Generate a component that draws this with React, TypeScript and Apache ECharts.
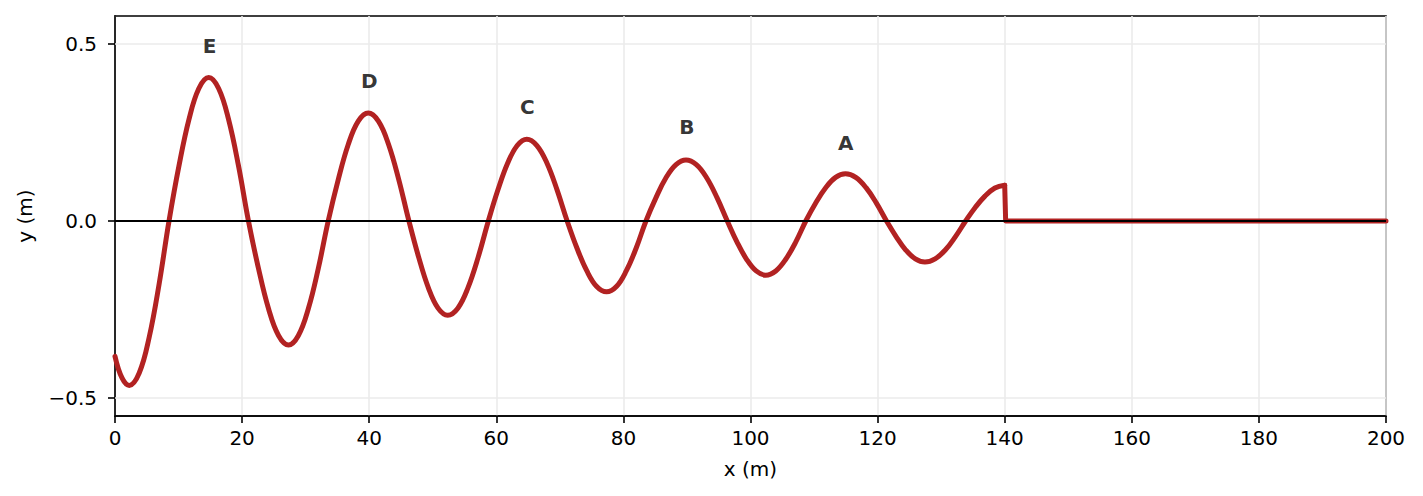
import React, { useEffect, useRef } from 'react';
import * as echarts from 'echarts';

// damped wave (extrema, zero crossings and points in between)
const waveX = [
  0, 1.1, 2.25, 3.81, 5.38, 6.94, 8.5, 10.06, 11.63, 13.19, 14.75, 16.31,
  17.88, 19.44, 21.0, 22.58, 24.15, 25.73, 27.3, 28.86, 30.43, 31.99, 33.55,
  35.13, 36.7, 38.28, 39.85, 41.45, 43.05, 44.65, 46.25, 47.78, 49.3, 50.83,
  52.35, 53.95, 55.55, 57.15, 58.75, 60.26, 61.78, 63.29, 64.8, 66.39, 67.98,
  69.56, 71.15, 72.7, 74.25, 75.8, 77.35, 78.9, 80.45, 82.0, 83.55, 85.13,
  86.7, 88.28, 89.85, 91.48, 93.1, 94.73, 96.35, 97.86, 99.38, 100.89, 102.4,
  103.98, 105.55, 107.13, 108.7, 110.26, 111.83, 113.39, 114.95, 116.56,
  118.18, 119.79, 121.4, 122.91, 124.43, 125.94, 127.45, 129.05, 130.65,
  132.25, 133.85, 135.39, 136.93, 138.46, 140.0
];
const waveY = [
  -0.382, -0.443, -0.464, -0.429, -0.328, -0.178, 0, 0.155, 0.286, 0.374, 0.405, 0.374,
  0.286, 0.155, 0, -0.134, -0.247, -0.323, -0.35, -0.323, -0.247, -0.134, 0,
  0.117, 0.216, 0.282, 0.305, 0.282, 0.216, 0.117, 0, -0.102, -0.188, -0.246,
  -0.266, -0.246, -0.188, -0.102, 0, 0.088, 0.163, 0.213, 0.231, 0.213, 0.163,
  0.088, 0, -0.077, -0.141, -0.185, -0.2, -0.185, -0.141, -0.077, 0, 0.066,
  0.122, 0.159, 0.172, 0.159, 0.122, 0.066, 0, -0.059, -0.108, -0.141, -0.153,
  -0.141, -0.108, -0.059, 0, 0.051, 0.094, 0.123, 0.133, 0.123,
  0.094, 0.051, 0, -0.044, -0.082, -0.107, -0.116, -0.107, -0.082,
  -0.044, 0, 0.039, 0.071, 0.093, 0.101
];

// drop at x = 140 and the flat part after it
const tailX = [140.0, 140.15, 200];
const tailY = [0.101, 0, 0];

// peak letters
const peakNames = ['E', 'D', 'C', 'B', 'A'];
const peakLabelX = [14.9, 40.0, 64.9, 90.0, 115.0];
const peakLabelY = [0.494, 0.394, 0.322, 0.265, 0.221];

const yTicks = [-0.5, 0, 0.5];
const yGridLines = [-0.5, 0.5];

const FONT = 'DejaVu Sans';
const RED = '#b22222';

const fmtY = (v: number) =>
  v === 0 ? '0.0' : (v < 0 ? '\u2212' : '') + Math.abs(v).toFixed(1);

const App: React.FC = () => {
  const chartRef = useRef<HTMLDivElement>(null);

  useEffect(() => {
    document.body.style.margin = '0';
    if (!chartRef.current) return;
    const chart = echarts.init(chartRef.current, null, { renderer: 'svg' });

    const axisText = { color: '#000', fontSize: 20, fontFamily: FONT };

    const option: any = {
      animation: false,
      textStyle: { fontFamily: FONT },
      grid: {
        left: 115,
        right: 37,
        top: 16,
        bottom: 80,
        show: true,
        borderColor: '#000',
        borderWidth: 1.6,
        backgroundColor: 'transparent'
      },
      xAxis: {
        type: 'value',
        min: 0,
        max: 200,
        interval: 20,
        name: 'x (m)',
        nameLocation: 'middle',
        nameGap: 43,
        nameTextStyle: axisText,
        axisLine: { show: true, onZero: false, lineStyle: { color: '#000', width: 1.6 } },
        axisTick: { show: true, length: 7, lineStyle: { color: '#000', width: 1.6 } },
        axisLabel: { ...axisText, margin: 12 },
        splitLine: { show: true, lineStyle: { color: '#ebebeb', width: 1.6 } }
      },
      yAxis: {
        type: 'value',
        min: -0.5504,
        max: 0.5786,
        name: 'y (m)',
        nameLocation: 'middle',
        nameGap: 80,
        nameRotate: 90,
        nameTextStyle: axisText,
        axisLine: { show: true, onZero: false, lineStyle: { color: '#000', width: 1.6 } },
        axisTick: {
          show: true,
          length: 7,
          customValues: yTicks,
          lineStyle: { color: '#000', width: 1.6 }
        },
        axisLabel: { ...axisText, margin: 18, customValues: yTicks, formatter: fmtY },
        splitLine: { show: false }
      },
      series: [
        {
          name: 'wave',
          type: 'line',
          data: waveX.map((x, i) => [x, waveY[i]]),
          smooth: 0.4,
          symbol: 'none',
          lineStyle: { color: RED, width: 5, join: 'round', cap: 'round' },
          z: 3,
          markLine: {
            silent: true,
            symbol: 'none',
            label: { show: false },
            lineStyle: { color: '#ebebeb', width: 1.6, type: 'solid' },
            data: yGridLines.map(v => ({ yAxis: v }))
          }
        },
        {
          name: 'tail',
          type: 'line',
          data: tailX.map((x, i) => [x, tailY[i]]),
          symbol: 'none',
          lineStyle: { color: RED, width: 5, join: 'round', cap: 'round' },
          z: 3,
          markLine: {
            silent: true,
            symbol: 'none',
            label: { show: false },
            lineStyle: { color: '#000', width: 2, type: 'solid' },
            data: [{ yAxis: 0 }]
          }
        },
        {
          name: 'peaks',
          type: 'scatter',
          symbolSize: 1,
          itemStyle: { color: 'transparent' },
          data: peakNames.map((n, i) => ({ name: n, value: [peakLabelX[i], peakLabelY[i]] })),
          label: {
            show: true,
            position: 'inside',
            formatter: '{b}',
            color: '#000',
            fontWeight: 'bold',
            fontSize: 20,
            fontFamily: FONT
          },
          z: 6
        }
      ]
    };

    chart.setOption(option);

    return () => {
      chart.dispose();
    };
  }, []);

  return (
    <div
      ref={chartRef}
      style={{ position: 'absolute', left: 0, top: 0, width: '1423px', height: '496px' }}
    />
  );
};

export default App;
